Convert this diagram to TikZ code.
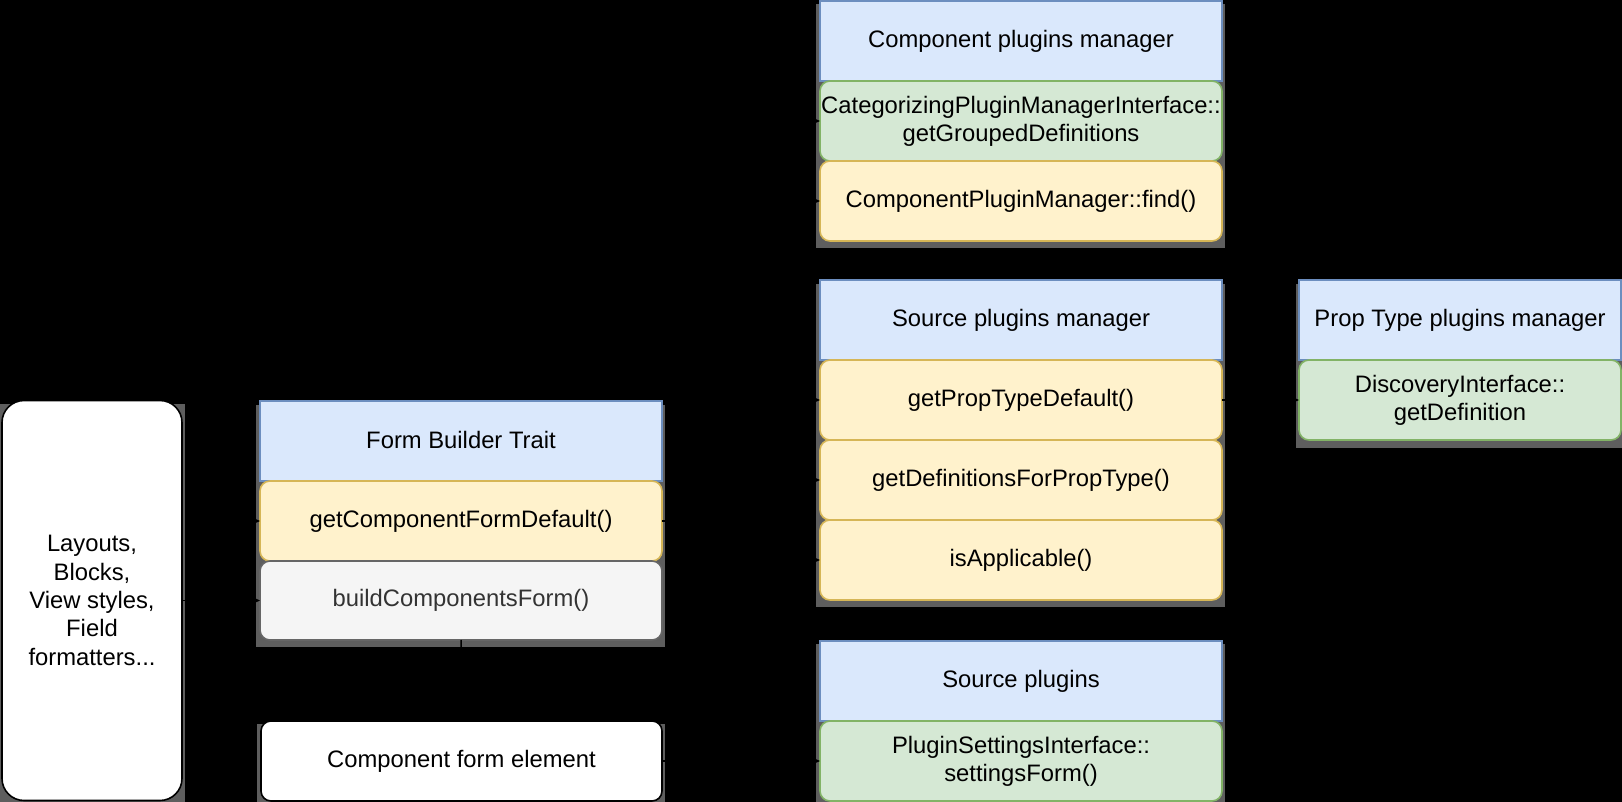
\documentclass[tikz,border=0pt]{standalone}
\usepackage{fontspec}
\setmainfont{Liberation Sans}
\usetikzlibrary{arrows.meta}
\definecolor{bluef}{HTML}{DAE8FC}
\definecolor{blued}{HTML}{6C8EBF}
\definecolor{yelf}{HTML}{FFF2CC}
\definecolor{yeld}{HTML}{D6B656}
\definecolor{grnf}{HTML}{D5E8D4}
\definecolor{grnd}{HTML}{82B366}
\definecolor{gryf}{HTML}{F5F5F5}
\definecolor{gryd}{HTML}{666666}
\definecolor{gryt}{HTML}{333333}
\definecolor{shd}{HTML}{5E5E5E}
\begin{document}
\begin{tikzpicture}[x=1pt,y=-1pt,
  every node/.style={font=\fontsize{23.8}{28.3}\selectfont, inner sep=0pt, outer sep=0pt, align=center, text=black, line width=1.6pt},
  sz/.style 2 args={minimum width=#1pt, minimum height=#2pt},
  hdr/.style={draw=blued, fill=bluef, rectangle},
  yel/.style={draw=yeld, fill=yelf, rounded corners=10pt},
  grn/.style={draw=grnd, fill=grnf, rounded corners=10pt},
  gry/.style={draw=gryd, fill=gryf, text=gryt, rounded corners=10pt},
  wht/.style={draw=black, fill=white, rounded corners=10pt},
  lay/.style={draw=black, fill=white, rounded corners=22pt},
  shadow/.style={fill=shd},
  arr/.style={draw=black, line width=1.5pt, -{Stealth[length=9pt,width=8pt]}}]
\useasboundingbox[fill=black] (0,0) rectangle (1622,802);
% shadows
\fill[shadow] (816,4) rectangle (1225,248);
\fill[shadow] (816,284) rectangle (1225,607);
\fill[shadow] (816,644) rectangle (1225,802);
\fill[shadow] (1296,284) rectangle (1622,448);
\fill[shadow] (256,405) rectangle (665,647);
\fill[shadow] (257,724) rectangle (665,802);
\fill[shadow] (0,404) rectangle (185,802);
% Component plugins manager
\node[hdr, sz={402}{80}] (cpm) at (1021,41) {\raisebox{2pt}{Component plugins manager}};
\node[grn, sz={402}{80}] (cat) at (1021,121) {CategorizingPluginManagerInterface::\\getGroupedDefinitions};
\node[yel, sz={402}{80}] (find) at (1021,201) {ComponentPluginManager::find()};
% Source plugins manager
\node[hdr, sz={402}{80}] (spm) at (1021,320) {\raisebox{2pt}{Source plugins manager}};
\node[yel, sz={402}{80}] (gptd) at (1021,400) {getPropTypeDefault()};
\node[yel, sz={402}{80}] (gdfpt) at (1021,480) {getDefinitionsForPropType()};
\node[yel, sz={402}{80}] (isapp) at (1021,560) {isApplicable()};
% Source plugins
\node[hdr, sz={402}{80}] (sp) at (1021,681) {\raisebox{2pt}{Source plugins}};
\node[grn, sz={402}{80}] (psi) at (1021,761) {PluginSettingsInterface::\\settingsForm()};
% Prop type plugins manager
\node[hdr, sz={322}{80}] (ptm) at (1460,320) {\raisebox{2pt}{Prop Type plugins manager}};
\node[grn, sz={322}{80}] (disc) at (1460,400) {DiscoveryInterface::\\getDefinition};
% Form builder trait
\node[hdr, sz={402}{80}] (fbt) at (461,441) {\raisebox{2pt}{Form Builder Trait}};
\node[yel, sz={402}{80}] (gcfd) at (461,521) {getComponentFormDefault()};
\node[gry, sz={402}{79}] (bcf) at (461,600.5) {buildComponentsForm()};
% Component form element
\node[wht, sz={401}{80}] (cfe) at (461.5,761) {Component form element};
% Layouts
\node[lay, sz={180}{400}] (lay) at (92,600.5) {\raisebox{2pt}{\parbox{170pt}{\centering Layouts,\\Blocks,\\View styles,\\Field\\formatters...}}};
% connectors
\draw[arr] (lay.east) -- (bcf.west);
\draw[arr] (lay.east) -- ++(35,0) |- (gcfd.west);
\draw[arr] (bcf.south) -- (cfe.north);
\draw[arr] (gcfd.east) -- ++(70,0) |- (cat.west);
\draw[arr] (gcfd.east) -- ++(70,0) |- (find.west);
\draw[arr] (gcfd.east) -- ++(70,0) |- (gptd.west);
\draw[arr] (gcfd.east) -- ++(70,0) |- (gdfpt.west);
\draw[arr] (gcfd.east) -- ++(70,0) |- (isapp.west);
\draw[arr] (cfe.east) -- (psi.west);
\draw[arr] (gptd.east) -- (disc.west);
\end{tikzpicture}
\end{document}
